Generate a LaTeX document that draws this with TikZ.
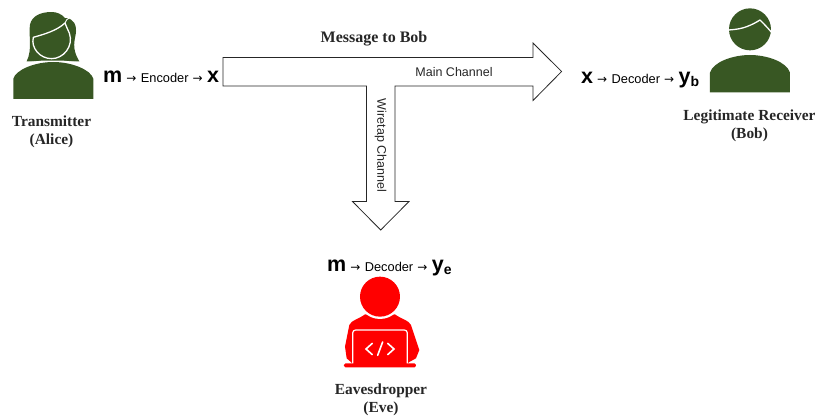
\documentclass[tikz,border=0pt]{standalone}
\usepackage{fontspec}
\setmainfont{Liberation Serif}
\setsansfont{Liberation Sans}
\newfontfamily\arrowfont{DejaVu Sans}
\definecolor{dkgreen}{HTML}{385723}
\tikzset{
  caption/.style={font=\rmfamily\bfseries\fontsize{15.4}{18}\selectfont,align=center,inner sep=0pt,text=black!85},
  flow/.style={font=\sffamily\fontsize{12.8}{14}\selectfont,inner sep=0pt,anchor=base west},
  chan/.style={font=\sffamily\fontsize{12.5}{14}\selectfont,inner sep=0pt,text=black!85},
  pipe/.style={draw=black!85,line width=0.8pt,fill=white,line join=miter},
  cutline/.style={draw=white,line width=1.3pt,line join=round,line cap=round},
  zoomed/.style={x=0.3333pt,y=-0.3333pt}
}
\newcommand{\bigsym}[1]{{\bfseries\fontsize{21.5}{22}\selectfont #1}}
\newcommand{\subsym}[1]{\raisebox{-3.5pt}{\bfseries\fontsize{14}{14}\selectfont #1}}
\newcommand{\arrw}{\hspace{4pt}{\arrowfont\fontsize{12}{12}\selectfont →}\hspace{4.5pt}}
\begin{document}
\begin{tikzpicture}[x=1pt,y=-1pt]
\useasboundingbox (0,0) rectangle (817,416);
% T-shaped arrow
\draw[pipe] (223,57.5) -- (533,57.5) -- (533,43) -- (561.6,71.5) -- (533,100.5) -- (533,86) -- (395,86)
  -- (395,201.5) -- (409,201.5) -- (380.7,230) -- (352.5,201.5) -- (366.5,201.5) -- (366.5,86) -- (223,86) -- cycle;
% Alice
\begin{scope}[shift={(10,8)},zoomed]
  \fill[dkgreen] (125,12) .. controls (90,12) and (65,25) .. (60,50) .. controls (55,80) and (68,125) .. (50,160)
    -- (208,160) .. controls (190,130) and (190,110) .. (197,80) .. controls (202,50) and (190,30) .. (165,30)
    .. controls (155,18) and (140,12) .. (125,12) -- cycle;
  \fill[white] (95,158) -- (50,163) -- (208,163) -- (160,158) -- cycle;
  \fill[dkgreen] (10,273) -- (10,212) .. controls (18,185) and (75,162) .. (130,162)
    .. controls (185,162) and (242,185) .. (250,212) -- (250,273) -- cycle;
  \draw[cutline] (165,45) .. controls (140,68) and (105,78) .. (70,88)
    .. controls (62,120) and (90,152) .. (125,152)
    .. controls (160,152) and (192,115) .. (178,75) .. controls (174,65) and (168,55) .. (165,45) -- cycle;
  \draw[cutline,line width=0.9pt] (165,45) .. controls (168,36) and (172,32) .. (178,30);
\end{scope}
\node[caption] (alice) at (51.5,132) {Transmitter\\(Alice)};
\node[flow] (aflow) at (103,82) {\bigsym{m}\arrw Encoder\arrw\bigsym{x}};
% Bob
\begin{scope}[shift={(570,0)},zoomed]
  \fill[dkgreen] (540,88) circle[radius=63];
  \fill[dkgreen] (420,277) -- (420,218) .. controls (430,185) and (490,165) .. (540,165)
    .. controls (590,165) and (650,185) .. (660,218) -- (660,277) -- cycle;
  \draw[cutline] (475,90) .. controls (505,88) and (530,85) .. (570,60) .. controls (580,70) and (590,80) .. (603,95);
\end{scope}
\node[caption] (bob) at (749.5,126) {Legitimate Receiver\\(Bob)};
\node[flow] (bflow) at (581,83) {\bigsym{x}\arrw Decoder\arrw\bigsym{y}\subsym{b}};
% Eve
\begin{scope}[shift={(310,250)},zoomed]
  \fill[red] (105,290) -- (118,225) .. controls (122,212) and (150,205) .. (165,193) -- (255,193)
    .. controls (270,205) and (298,212) .. (303,225)
    -- (328,300) -- (318,325) -- (296,337) -- (292,342) -- (128,342) -- (124,337) -- (110,325) -- cycle;
  \fill[white] (210,140) circle[radius=67];
  \fill[red] (210,140) circle[radius=60];
  \fill[red,rounded corners=1.5pt] (102,340) rectangle (318,352);
  \draw[white,line width=1.2pt,rounded corners=3pt] (128,340) -- (128,240) -- (292,240) -- (292,340);
  \draw[white,line width=1.6pt,line cap=round,line join=miter] (187,280) -- (168,297) -- (187,314);
  \draw[white,line width=1.6pt,line cap=round,line join=miter] (233,280) -- (252,297) -- (233,314);
  \draw[white,line width=1.6pt,line cap=round] (218,276) -- (203,316);
\end{scope}
\node[caption] (eve) at (381,400) {Eavesdropper\\(Eve)};
\node[flow] (eflow) at (327,271) {\bigsym{m}\arrw Decoder\arrw\bigsym{y}\subsym{e}};
% labels
\node[caption,font=\rmfamily\bfseries\fontsize{16}{18}\selectfont] (msg) at (374,38.5) {Message to Bob};
\node[chan] (main) at (454,72.5) {Main Channel};
\node[chan,rotate=-90] (wire) at (380.7,145.5) {Wiretap Channel};
\end{tikzpicture}
\end{document}
